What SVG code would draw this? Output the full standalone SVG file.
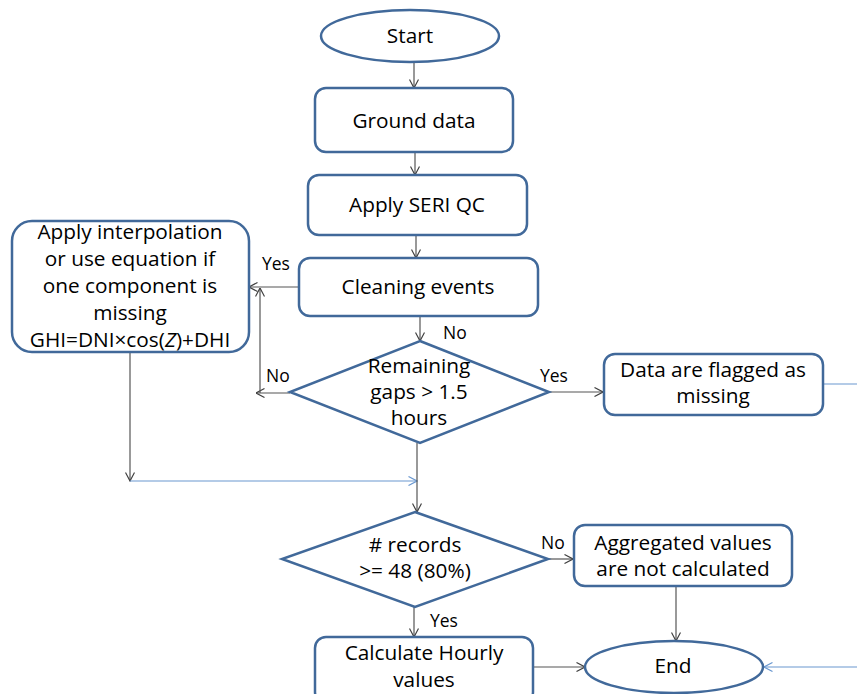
<svg xmlns="http://www.w3.org/2000/svg" width="857" height="694" viewBox="0 0 857 694">
<defs>
<marker id="ah" viewBox="0 0 10 10" refX="9.5" refY="5" markerWidth="10" markerHeight="10" markerUnits="userSpaceOnUse" orient="auto">
<path d="M1,0.5 L9.5,5 L1,9.5" fill="none" stroke="#404040" stroke-width="1.2"/>
</marker>
<marker id="ahb" viewBox="0 0 10 10" refX="9.5" refY="5" markerWidth="10" markerHeight="10" markerUnits="userSpaceOnUse" orient="auto">
<path d="M1,0.5 L9.5,5 L1,9.5" fill="none" stroke="#6A98D0" stroke-width="1.2"/>
</marker>
</defs>
<style>
.n{fill:#fff;stroke:#41699A;stroke-width:2.5}
.t{font-family:"Open Sans","Liberation Sans",sans-serif;font-size:20.8px;fill:#000;text-anchor:middle}
.l{font-family:"Open Sans","Liberation Sans",sans-serif;font-size:17.5px;fill:#000}
.c{fill:none;stroke:#555;stroke-width:1.2}
.b{fill:none;stroke:#6A98D0;stroke-width:1.2}
</style>
<rect width="857" height="694" fill="#fff"/>
<g id="connectors">
<line class="c" x1="414" y1="62" x2="414" y2="88" marker-end="url(#ah)"/>
<line class="c" x1="415" y1="152" x2="415" y2="175" marker-end="url(#ah)"/>
<line class="c" x1="416" y1="235" x2="416" y2="258" marker-end="url(#ah)"/>
<line class="c" x1="299" y1="287" x2="249" y2="287" marker-end="url(#ah)"/>
<line class="c" x1="420" y1="316" x2="420" y2="341" marker-end="url(#ah)"/>
<line class="c" x1="290" y1="393" x2="256" y2="393" marker-end="url(#ah)"/>
<line class="c" x1="260" y1="393" x2="260" y2="288" marker-end="url(#ah)"/>
<line class="c" x1="549" y1="392" x2="603" y2="392" marker-end="url(#ah)"/>
<line class="b" x1="823" y1="384" x2="857" y2="384"/>
<line class="c" x1="130" y1="352" x2="130" y2="481" marker-end="url(#ah)"/>
<line class="b" x1="130" y1="481" x2="417" y2="481" marker-end="url(#ahb)"/>
<line class="c" x1="417" y1="443" x2="417" y2="512" marker-end="url(#ah)"/>
<line class="c" x1="548" y1="559" x2="573" y2="559" marker-end="url(#ah)"/>
<line class="c" x1="676" y1="586" x2="676" y2="641" marker-end="url(#ah)"/>
<line class="c" x1="414" y1="607" x2="414" y2="637" marker-end="url(#ah)"/>
<line class="c" x1="533" y1="667" x2="585" y2="667" marker-end="url(#ah)"/>
<line class="b" x1="857" y1="667" x2="764" y2="667" marker-end="url(#ahb)"/>
</g>
<g id="labels">
<text class="l" x="262" y="270">Yes</text>
<text class="l" x="443" y="339">No</text>
<text class="l" x="266" y="382">No</text>
<text class="l" x="540" y="382">Yes</text>
<text class="l" x="541" y="549">No</text>
<text class="l" x="430" y="627">Yes</text>
</g>
<g id="start">
<ellipse class="n" cx="410" cy="36" rx="89" ry="26"/>
<text class="t" x="410" y="43">Start</text>
</g>
<g id="ground">
<rect class="n" x="315" y="88" width="198" height="64" rx="11"/>
<text class="t" x="414" y="128">Ground data</text>
</g>
<g id="seri">
<rect class="n" x="308" y="175" width="219" height="60" rx="11"/>
<text class="t" x="417" y="212">Apply SERI QC</text>
</g>
<g id="cleaning">
<rect class="n" x="299" y="258" width="239" height="58" rx="11"/>
<text class="t" x="418" y="294">Cleaning events</text>
</g>
<g id="interp">
<rect class="n" x="12" y="221" width="237" height="131" rx="20"/>
<text class="t" x="130" y="239">Apply interpolation</text>
<text class="t" x="130" y="266">or use equation if</text>
<text class="t" x="130" y="293">one component is</text>
<text class="t" x="130" y="320">missing</text>
<text class="t" x="130" y="347">GHI=DNI×cos(<tspan font-style="italic">Z</tspan>)+DHI</text>
</g>
<g id="gaps">
<polygon class="n" points="420,341 549,392 420,443 290,392"/>
<text class="t" x="419" y="373">Remaining</text>
<text class="t" x="419" y="399">gaps &gt; 1.5</text>
<text class="t" x="419" y="425">hours</text>
</g>
<g id="flagged">
<rect class="n" x="604" y="354" width="219" height="61" rx="11"/>
<text class="t" x="713" y="377">Data are flagged as</text>
<text class="t" x="713" y="403">missing</text>
</g>
<g id="records">
<polygon class="n" points="415,512 548,559 415,607 282,559"/>
<text class="t" x="415" y="552"># records</text>
<text class="t" x="415" y="578">&gt;= 48 (80%)</text>
</g>
<g id="aggregated">
<rect class="n" x="574" y="525" width="218" height="61" rx="11"/>
<text class="t" x="683" y="550">Aggregated values</text>
<text class="t" x="683" y="576">are not calculated</text>
</g>
<g id="hourly">
<rect class="n" x="315" y="637" width="218" height="66" rx="11"/>
<text class="t" x="424" y="660">Calculate Hourly</text>
<text class="t" x="424" y="687">values</text>
</g>
<g id="end">
<ellipse class="n" cx="674" cy="667" rx="89" ry="26"/>
<text class="t" x="673" y="673">End</text>
</g>
</svg>
